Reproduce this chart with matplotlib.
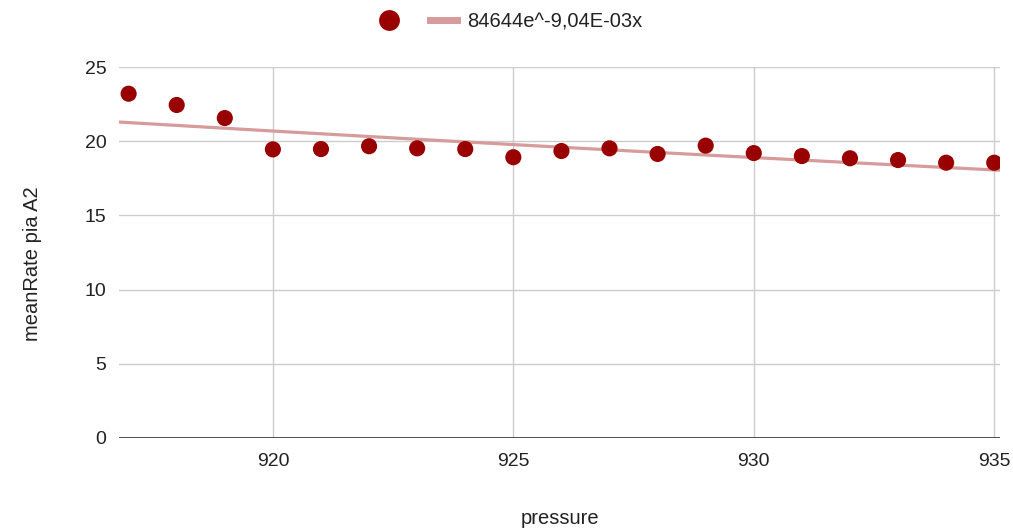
import numpy as np
import matplotlib
matplotlib.use("Agg")
import matplotlib.pyplot as plt
from matplotlib.lines import Line2D

plt.rcParams['font.family'] = ['Liberation Sans', 'DejaVu Sans']

pressure = [917, 918, 919, 920, 921, 922, 923, 924, 925, 926,
            927, 928, 929, 930, 931, 932, 933, 934, 935]
mean_rate = [23.20, 22.44, 21.56, 19.45, 19.47, 19.66, 19.52, 19.47, 18.92, 19.34,
             19.52, 19.14, 19.70, 19.20, 19.00, 18.85, 18.73, 18.55, 18.55]
trend_a = 84644
trend_k = -9.04e-3
trend_label = "84644e^-9,04E-03x"
x_ticks = [920, 925, 930, 935]
y_ticks = [0, 5, 10, 15, 20, 25]

W, H = 1013, 531
fig = plt.figure(figsize=(W / 100, H / 100), dpi=100)
ax = fig.add_axes([119 / W, 1 - 438 / H, (1000 - 119) / W, (438 - 67) / H])

xmin, xmax = 916.8, 935.12
ax.set_xlim(xmin, xmax)
ax.set_ylim(0, 25)

xs = np.linspace(xmin, xmax, 200)
ax.plot(xs, trend_a * np.exp(trend_k * xs), color='#d69b9b', lw=2.3, zorder=2,
        solid_capstyle='butt')
ax.scatter(pressure, mean_rate, s=135, color='#990000', edgecolors='none', zorder=3)

ax.set_xticks(x_ticks)
ax.set_yticks(y_ticks)
ax.grid(True, color='#cccccc', lw=1)
ax.set_axisbelow(True)
for s in ['top', 'right', 'left', 'bottom']:
    ax.spines[s].set_visible(False)
ax.axhline(0, color='#333333', lw=1.2, zorder=1)
ax.tick_params(axis='both', length=0, labelsize=14, colors='#222222')
ax.tick_params(axis='x', pad=11)
ax.tick_params(axis='y', pad=9)

fig.text(560 / W, 1 - 519 / H, 'pressure', ha='center', va='center', fontsize=14.5, color='#222222')
fig.text(33 / W, 1 - 264 / H, 'meanRate pia A2', ha='center', va='center', rotation=90,
         fontsize=14.5, color='#222222')

handles = [Line2D([], [], ls='none', marker='o', markersize=15, color='#990000', markeredgewidth=0),
           Line2D([], [], color='#d69b9b', lw=5)]
fig.legend(handles, ['', trend_label], loc='center', bbox_to_anchor=(509 / W, 1 - 22 / H),
           ncol=2, frameon=False, fontsize=14.5, handlelength=1.3, columnspacing=0.9,
           handletextpad=0.5, labelcolor='#222222')

fig.savefig('out.png', dpi=100)
